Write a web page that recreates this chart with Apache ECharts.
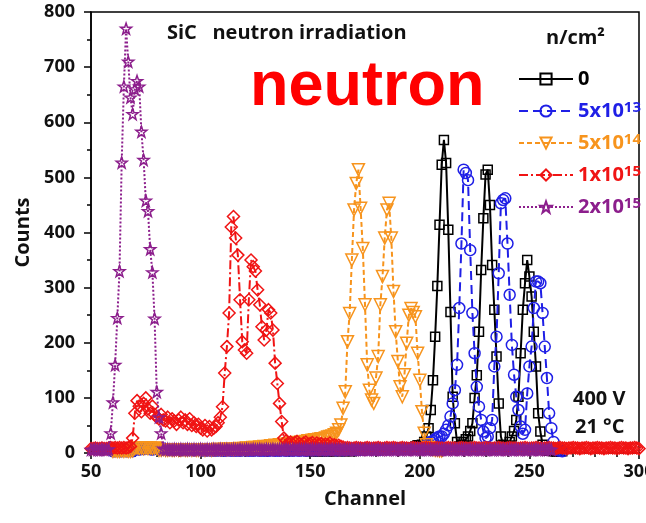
<!DOCTYPE html>
<html>
<head>
<meta charset="utf-8">
<script src="https://cdn.jsdelivr.net/npm/echarts@6/dist/echarts.min.js"></script>
<style>
  html, body { margin: 0; padding: 0; background: #fff; overflow: hidden; }
  #chart { width: 646px; height: 523px; }
</style>
</head>
<body>
<div id="chart"></div>
<script>
// SiC detector spectra after neutron irradiation (counts per channel)
const fluenceNames = ['0', '5x10^13', '5x10^14', '1x10^15', '2x10^15'];
const fluenceColors = ['#000000', '#1f1fe6', '#f7941d', '#f01414', '#8c1e8c'];

// first channel of each counts list
const blackStart = 150;
const blueStart = 60;
const orangeStart = 60;
const redStart = 50;
const purpleStart = 50;

// fluence 0
const blackCounts = [
  3,4,3,4,3,3,4,3,4,3, 4,3,4,4,3,4,3,4,4,3,
  6,7,6,8,7,6,7,8,7,6, 7,8,7,6,7,8,7,6,7,8, 7,8,9,8,7,8,9,10,12,14, 13,15,20,30,
  45,78,132,211,303,414,523,568,526,405,
  256,102,54,20,12,15,20,25,30,40,
  54,100,141,220,332,426,505,514,450,341,
  260,175,90,30,15,10,12,20,30,40,
  60,102,181,260,308,350,320,284,220,157,
  72,39,15,8,5,4,4,3,3,3,
  3,3
];

// 5x10^13
const blueCounts = [
  3,3,4,3,3,4,3,3,4,3,
  7,8,6,8,7,9,8,7,6,8, 7,6,7,8,6,7,6,5,6,7, 6,5,6,5,6,5,6,5,5,6, 5,
  5,4,5,5,4,5,4,5,5,4,
  4,5,5,4,5,4,5,4,5,5,
  5,4,5,4,5,5,4,5,4,5,
  4,5,5,4,5,4,5,5,4,5,
  5,4,5,5,4,5,5,4,5,6,
  5,6,5,6,6,5,6,5,6,6,
  6,5,6,6,5,6,6,7,6,6,
  6,7,6,7,6,7,7,6,7,7,
  7,6,7,8,7,7,8,7,8,7,
  8,7,8,8,7,8,9,8,8,9,
  8,10,14,18,20,22,25,28,30,30,35,42,50,66,90,
  114,160,263,380,514,508,495,368,254,181,
  120,84,60,39,27,30,45,60,157,211,
  326,453,459,462,380,287,196,142,102,78,
  48,35,42,108,157,193,263,311,311,308,
  254,193,136,72,45,20,8,5,4,3
];

// 5x10^14
const orangeCounts = [
  3,4,3,3,4,3,4,3,3,4,
  8,9,8,9,8,9,8,9,8,9,8,
  5,5,6,5,5,6,5,5,6,5, 5,6,5,5,6,5,6,5,5,6, 6,5,6,6,5,6,6,7,6,6, 7,6,7,7,6,7,7,8,7,
  8,9,8,9,10,10,9,11,10,12, 11,12,13,12,14,13,15,14,16,15,
  17,16,18,17,19,18,20,19,21,22, 21,23,24,23,25,26,25,27,29,30,
  31,33,36,42,51,81,111,202,253,350,
  441,489,514,444,371,269,160,114,96,90,
  136,175,269,320,390,441,453,390,293,220,
  166,120,102,142,199,250,262,255,247,181,
  132,75,36,15,10,8,6,5,5,4,
  4
];

// 1x10^15
const redCounts = [
  8,8,9,8,8,9,8,8,
  9,10,9,10,9,10,9,10,9,10,12,
  27,72,95,85,75,90,100,80,72,85,
  70,65,62,70,60,58,65,55,62,58,
  52,60,65,55,60,52,62,50,55,48,
  52,45,42,50,40,48,42,45,48,55, 65,
  84,145,193,254,410,429,390,359,278,202,
  187,181,278,350,338,330,296,269,229,205,
  223,260,254,223,163,126,90,57,27,22,
  18,20,16,19,21,17,15,18,20,16, 17,19,15,18,16,17,14,16,15,18, 14,15,13,14,12,11,
  9,10,9,8,9,10,9,9,8,9,
  10,9,8,9,9,10,9,8,9,10,
  9,9,10,9,8,9,10,9,9,8,
  9,10,9,9,8,9,9,10,9,9,
  8,9,10,9,9,8,9,10,9,9,
  9,8,9,10,9,9,8,9,9,10,
  9,9,8,9,10,9,9,8,9,9,
  10,9,9,8,9,10,9,9,9,8,
  9,9,10,9,8,9,9,10,9,9,
  8,9,9,10,9,9,8,9,10,9,
  9,8,9,9,10,9,9,8,9,9,
  10,9,8,9,9,10,9,9,8,9,
  9,10,9,9,8,9,10,9,9,8,
  9,9,10,9,8
];

// 2x10^15
const purpleCounts = [
  6,6,7,6,6,7,6,6,7,
  36,92,160,245,330,527,665,770,710,645,
  615,660,675,665,583,532,458,439,370,328,
  244,111,65,36,8,
  6,7,6,6,7,6,6,7,6,6,
  7,6,6,7,6,6,7,6,6,7,
  6,6,7,6,6,7,6,6,7,6,
  6,7,6,6,7,6,6,7,6,6,
  7,6,6,7,6,6,7,6,6,7,
  6,6,7,6,6,7,6,6,7,6,
  6,7,6,6,7,6,6,7,6,6,
  7,6,6,7,6,6,7,6,6,7,
  6,6,7,6,6,7,6,6,7,6,
  6,7,6,6,7,6,6,7,6,6,
  7,6,6,7,6,6,7,6,6,7,
  6,6,7,6,6,7,6,6,7,6,
  6,7,6,6,7,6,6,7,6,6,
  7,6,6,7,6,6,7,6,6,7,
  6,6,7,6,6,7,6,6,7,6,
  6,7,6,6,7,6,6,7,6,6,
  7,6,6,7,6,6,7,6,6,7,
  6,6,7,6,6,7,6
];

const xTicks = { min: 50, max: 300, interval: 50 };
const yTicks = { min: 0, max: 800, interval: 100 };

const starPath = 'path://M50 0L61.8 33.8L97.6 34.5L69 56.2L79.4 90.5L50 70L20.6 90.5L31 56.2L2.4 34.5L38.2 33.8Z';
const labelFont = '"Open Sans", "DejaVu Sans", sans-serif';

function toPairs(start, counts) {
  return counts.map((v, i) => [start + i, v]);
}

const seriesSpecs = [
  { start: blackStart, counts: blackCounts, symbol: 'rect', size: 9, rotate: 0, dash: 'solid' },
  { start: blueStart, counts: blueCounts, symbol: 'circle', size: 11, rotate: 0, dash: [9, 5] },
  { start: orangeStart, counts: orangeCounts, symbol: 'triangle', size: 12, rotate: 180, dash: [5, 3] },
  { start: redStart, counts: redCounts, symbol: 'diamond', size: 12, rotate: 0, dash: [9, 3, 2, 3] },
  { start: purpleStart, counts: purpleCounts, symbol: starPath, size: 11, rotate: 0, dash: [2, 2] }
];

const chart = echarts.init(document.getElementById('chart'), null, { renderer: 'canvas' });

const series = seriesSpecs.map((s, i) => ({
  name: fluenceNames[i],
  type: 'line',
  data: toPairs(s.start, s.counts),
  symbol: s.symbol,
  symbolSize: s.size,
  symbolRotate: s.rotate,
  showAllSymbol: true,
  clip: true,
  lineStyle: { color: fluenceColors[i], width: 2, type: s.dash },
  itemStyle: { color: 'rgba(255,255,255,0)', borderColor: fluenceColors[i], borderWidth: 1.5 },
  emphasis: { disabled: true },
  z: 2 + i
}));

// legend rich styles: coloured label + superscript exponent
const rich = {};
fluenceColors.forEach((c, i) => {
  rich['n' + i] = { color: c, fontSize: 20, fontWeight: 'bold', fontFamily: labelFont, lineHeight: 22 };
  rich['s' + i] = { color: c, fontSize: 15, fontWeight: 'bold', fontFamily: labelFont, lineHeight: 14, verticalAlign: 'top' };
});

const option = {
  backgroundColor: '#ffffff',
  animation: false,
  grid: {
    left: 91, right: 7, top: 12, bottom: 70,
    containLabel: false,
    outerBoundsMode: 'none',
    show: true, borderColor: '#000', borderWidth: 1.5, backgroundColor: 'transparent'
  },
  xAxis: {
    type: 'value',
    min: xTicks.min, max: xTicks.max, interval: xTicks.interval,
    name: 'Channel', nameLocation: 'middle', nameGap: 36,
    nameTextStyle: { color: '#111', fontSize: 20, fontWeight: 'bold', fontFamily: labelFont },
    axisLine: { lineStyle: { color: '#000', width: 1.5 } },
    axisTick: { length: 6, lineStyle: { color: '#000', width: 1.5 } },
    minorTick: { show: true, splitNumber: 5, length: 4, lineStyle: { color: '#000', width: 1.5 } },
    splitLine: { show: false },
    axisLabel: { color: '#111', fontSize: 18, fontWeight: 'bold', fontFamily: labelFont, margin: 10 }
  },
  yAxis: {
    type: 'value',
    min: yTicks.min, max: yTicks.max, interval: yTicks.interval,
    name: 'Counts', nameLocation: 'middle', nameGap: 54,
    nameTextStyle: { color: '#111', fontSize: 20, fontWeight: 'bold', fontFamily: labelFont },
    axisLine: { show: true, lineStyle: { color: '#000', width: 1.5 } },
    axisTick: { show: true, length: 7, lineStyle: { color: '#000', width: 1.5 } },
    minorTick: { show: true, splitNumber: 2, length: 4, lineStyle: { color: '#000', width: 1.5 } },
    splitLine: { show: false },
    axisLabel: { color: '#111', fontSize: 18, fontWeight: 'bold', fontFamily: labelFont, margin: 16 }
  },
  legend: {
    orient: 'vertical',
    left: 513, top: 64,
    itemWidth: 54, itemHeight: 14, itemGap: 11,
    data: fluenceNames,
    formatter: function (name) {
      const i = fluenceNames.indexOf(name);
      const parts = name.split('^');
      if (parts.length === 1) return '{n' + i + '|' + parts[0] + '}';
      return '{n' + i + '|' + parts[0] + '}{s' + i + '|' + parts[1] + '}';
    },
    textStyle: { rich: rich }
  },
  graphic: [
    {
      type: 'text', left: 167, top: 23, silent: true,
      style: { text: 'SiC   neutron irradiation', fill: '#111', font: 'bold 20px ' + labelFont }
    },
    {
      type: 'text', left: 250, top: 56, silent: true,
      style: { text: 'neutron', fill: '#ff0000', font: 'bold 63px "Liberation Sans", Arial, sans-serif' }
    },
    {
      type: 'text', left: 546, top: 28, silent: true,
      style: { text: 'n/cm²', fill: '#111', font: 'bold 20px ' + labelFont }
    },
    {
      type: 'text', left: 573, top: 389, silent: true,
      style: { text: '400 V', fill: '#111', font: 'bold 20px ' + labelFont }
    },
    {
      type: 'text', left: 575, top: 417, silent: true,
      style: { text: '21 °C', fill: '#111', font: 'bold 20px ' + labelFont }
    }
  ],
  series: series
};

chart.setOption(option);
</script>
</body>
</html>
